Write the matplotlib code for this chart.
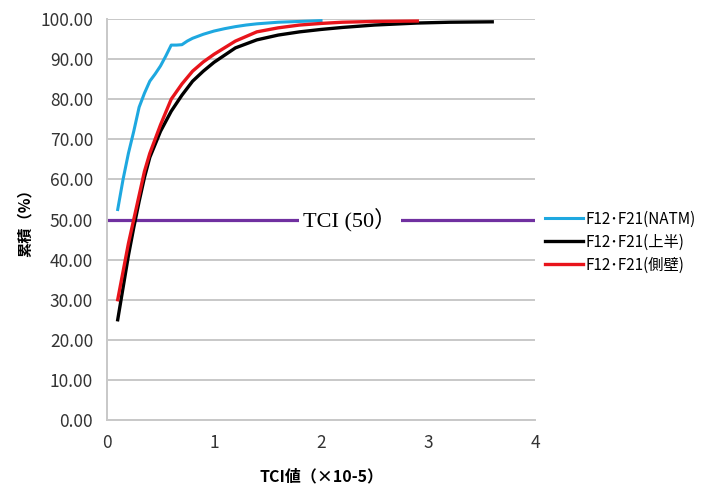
import numpy as np
import matplotlib
matplotlib.use("Agg")
import matplotlib.pyplot as plt

plt.rcParams['font.family'] = ['Noto Sans CJK JP', 'DejaVu Sans']

# data
natm_x = [0.1, 0.15, 0.2, 0.25, 0.3, 0.35, 0.4, 0.45, 0.5, 0.55, 0.6, 0.65, 0.7,
          0.75, 0.8, 0.9, 1.0, 1.1, 1.2, 1.3, 1.4, 1.5, 1.6, 1.8, 2.0]
natm_y = [52.5, 60.0, 66.5, 72.0, 78.0, 81.5, 84.5, 86.3, 88.3, 90.8, 93.5, 93.5, 93.6,
          94.5, 95.2, 96.2, 97.0, 97.6, 98.1, 98.5, 98.8, 99.0, 99.2, 99.4, 99.6]

upper_x = [0.1, 0.15, 0.2, 0.25, 0.3, 0.35, 0.4, 0.5, 0.6, 0.7, 0.8, 0.9, 1.0,
           1.2, 1.4, 1.6, 1.8, 2.0, 2.2, 2.5, 2.9, 3.2, 3.6]
upper_y = [25.0, 33.0, 41.0, 48.0, 54.5, 60.5, 65.5, 72.0, 77.0, 81.0, 84.5, 87.0, 89.2,
           92.8, 94.8, 96.0, 96.8, 97.4, 97.9, 98.5, 99.0, 99.2, 99.3]

side_x = [0.1, 0.15, 0.2, 0.25, 0.3, 0.35, 0.4, 0.5, 0.6, 0.7, 0.8, 0.9, 1.0,
          1.2, 1.4, 1.6, 1.8, 2.0, 2.2, 2.5, 2.9]
side_y = [30.0, 37.0, 44.0, 50.0, 56.0, 62.0, 66.5, 73.6, 80.0, 83.8, 87.0, 89.3, 91.2,
          94.5, 96.8, 97.8, 98.5, 98.9, 99.2, 99.4, 99.5]

labels = ["F12･F21(NATM)", "F12･F21(上半)", "F12･F21(側壁)"]
tci_level = 50

fig = plt.figure(figsize=(7.11, 4.84), dpi=100)
ax = fig.add_axes([0.1505, 0.1322, 0.602, 0.8285])

ax.set_xlim(0, 4)
ax.set_ylim(0, 100)
ax.set_xticks(np.arange(0, 5, 1))
ax.set_yticks(np.arange(0, 101, 10))
ax.yaxis.set_major_formatter(matplotlib.ticker.FormatStrFormatter('%.2f'))
ax.grid(axis='y', color='#c8c8c8', lw=1.4, zorder=0)
ax.tick_params(length=0, labelsize=12.5, colors='#333333')
ax.tick_params(axis='y', pad=10)
ax.tick_params(axis='x', pad=10)
for s in ['top', 'right']:
    ax.spines[s].set_visible(False)
for s in ['left', 'bottom']:
    ax.spines[s].set_color('#c8c8c8')
    ax.spines[s].set_linewidth(1.4)

ax.axhline(tci_level, color='#7030a0', lw=2.3, zorder=2)
ax.text(2.27, tci_level, "TCI (50）", family=['Liberation Serif', 'Noto Sans CJK JP'],
        fontsize=16, ha='center', va='center', zorder=3,
        bbox=dict(facecolor='white', edgecolor='none', pad=3))

l1, = ax.plot(natm_x, natm_y, color='#1ea8e0', lw=2.2, zorder=4)
l2, = ax.plot(upper_x, upper_y, color='black', lw=2.4, zorder=4)
l3, = ax.plot(side_x, side_y, color='#e8141b', lw=2.4, zorder=5)

fig.legend([l1, l2, l3], labels, loc='upper left', bbox_to_anchor=(0.758, 0.578),
           frameon=False, fontsize=11, handlelength=2.5, handletextpad=0.15,
           labelspacing=0.4, borderaxespad=0)

ax.set_ylabel("累積（%）", fontsize=11, fontweight='bold', labelpad=5)
ax.set_xlabel("TCI値（×10-5）", fontsize=11.5, fontweight='bold', labelpad=12)

fig.savefig('out.png', dpi=100)
